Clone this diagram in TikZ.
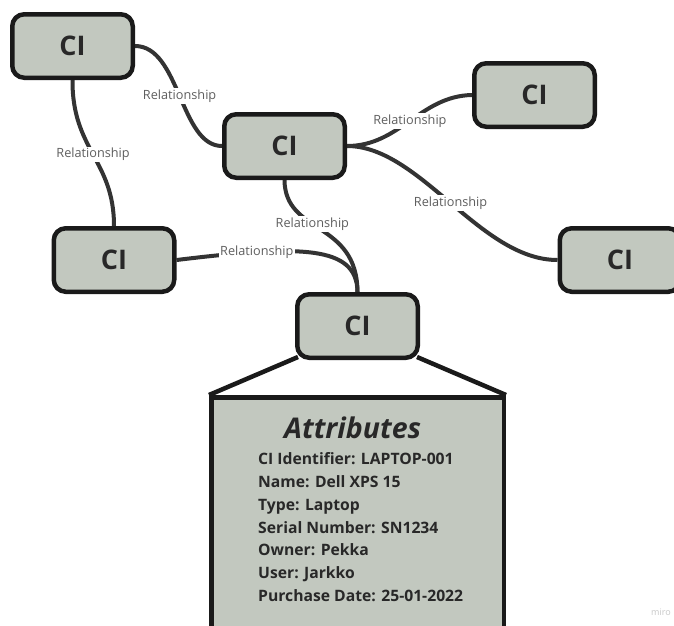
\documentclass[tikz,border=0pt]{standalone}
\usepackage{fontspec}
\setmainfont{Open Sans}
\usetikzlibrary{backgrounds}
\definecolor{cifill}{RGB}{194,200,191}
\definecolor{ciborder}{RGB}{26,26,26}
\definecolor{linkcol}{RGB}{51,51,51}
\definecolor{labelcol}{RGB}{95,95,95}
\definecolor{cltext}{RGB}{40,40,40}
\begin{document}
\begin{tikzpicture}[x=1pt,y=-1pt,
  cibox/.style={draw=ciborder, fill=cifill, line width=4.5pt, rounded corners=12pt,
    minimum width=120.5pt, minimum height=63.5pt, inner sep=0pt,
    font=\fontsize{27}{27}\selectfont\bfseries, text=cltext},
  link/.style={draw=linkcol, line width=4pt},
  rel/.style={fill=white, inner sep=1.5pt, text=labelcol, font=\fontsize{12.7}{12.7}\selectfont},
  attrline/.style={anchor=base west, inner sep=0pt, text=cltext,
    font=\fontsize{15.7}{15.7}\selectfont\bfseries},
]
\useasboundingbox (0,0) rectangle (674,625);
\clip (0,0) rectangle (674,625);

% configuration items
\node[cibox] (ci1) at (72.5,46)  {CI};
\node[cibox] (ci2) at (284.5,146) {CI};
\node[cibox] (ci3) at (534.5,95) {CI};
\node[cibox] (ci4) at (114,260) {CI};
\node[cibox] (ci5) at (620,260) {CI};
\node[cibox] (ci6) at (357.5,326) {CI};

% attribute card below the selected item
\node[draw=ciborder, fill=cifill, line width=4.5pt, minimum width=292.5pt,
  minimum height=260pt, inner sep=0pt, anchor=north] (attr) at (357.5,395) {};
\node[anchor=base west, inner sep=0pt, text=cltext,
  font=\fontsize{28.5}{28.5}\selectfont\bfseries\itshape] (title) at (284,438.3) {Attributes};
\node[attrline] (a1) at (258,464.3) {CI Identifier: LAPTOP-001};
\node[attrline] (a2) at (258,487.2) {Name: Dell XPS 15};
\node[attrline] (a3) at (258,510.1) {Type: Laptop};
\node[attrline] (a4) at (258,533.0) {Serial Number: SN1234};
\node[attrline] (a5) at (258,555.9) {Owner: Pekka};
\node[attrline] (a6) at (258,578.8) {User: Jarkko};
\node[attrline] (a7) at (258,601.7) {Purchase Date: 25-01-2022};

\node[text=black!22, inner sep=0pt, font=\fontsize{9}{9}\selectfont] (wm) at (661,612) {miro};

\begin{pgfonlayer}{background}
  % relationships between items
  \draw[link] (ci1.east) .. controls (180,46) and (180,146) .. (ci2.west)
    node[rel, pos=0.5] (r1) {Relationship};
  \draw[link] (ci1.south) .. controls (72,150) and (114,160) .. (ci4.north)
    node[rel, pos=0.5] (r2) {Relationship};
  \draw[link] (ci2.east) .. controls (400,146) and (420,96) .. (ci3.west)
    node[rel, pos=0.5] (r3) {Relationship};
  \draw[link] (ci2.east) .. controls (420,146) and (480,260) .. (ci5.west)
    node[rel, pos=0.5] (r4) {Relationship};
  \draw[link] (ci2.south) .. controls (285,235) and (357,220) .. (ci6.north)
    node[rel, pos=0.42] (r5) {Relationship};
  \draw[link] (ci4.east) .. controls (300,245) and (357,245) .. (ci6.north)
    node[rel, pos=0.25] (r6) {Relationship};
  % links from the item to its attribute card
  \draw[draw=ciborder, line width=4.5pt, line join=miter]
    ([shift={(3,-3)}]ci6.south west) -- (attr.north west);
  \draw[draw=ciborder, line width=4.5pt, line join=miter]
    ([shift={(-3,-3)}]ci6.south east) -- (attr.north east);
\end{pgfonlayer}
\end{tikzpicture}
\end{document}
